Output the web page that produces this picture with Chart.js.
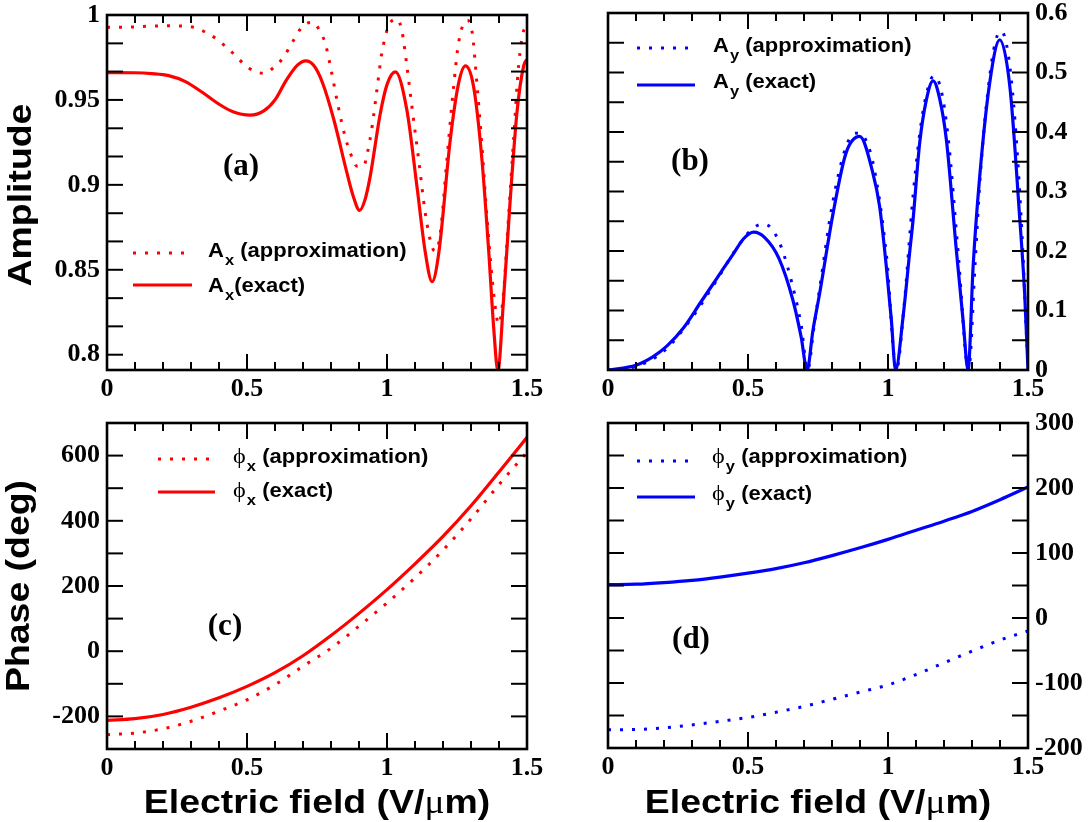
<!DOCTYPE html>
<html>
<head>
<meta charset="utf-8">
<script src="https://cdn.jsdelivr.net/npm/chart.js@4.4.0/dist/chart.umd.min.js"></script>
<style>
  html, body { margin: 0; padding: 0; background: #fff; }
  body { width: 1091px; height: 822px; position: relative; overflow: hidden; }
  canvas { position: absolute; }
  .title {
    position: absolute;
    font-family: 'Liberation Sans', Arial, sans-serif;
    font-weight: bold;
    font-size: 34px;
    line-height: 1;
    color: #000;
    white-space: nowrap;
  }
  .mu { font-family: 'Liberation Serif', serif; font-weight: normal; }
</style>
</head>
<body>
<canvas id="chartA" width="560" height="440" style="left:0;top:-30px"></canvas>
<canvas id="chartB" width="531" height="440" style="left:560px;top:-30px"></canvas>
<canvas id="chartC" width="560" height="389" style="left:0;top:400px"></canvas>
<canvas id="chartD" width="531" height="388" style="left:560px;top:400px"></canvas>

<div class="title" style="left:19px;top:195px;transform:translate(-50%,-50%) rotate(-90deg) scaleX(1.1)">Amplitude</div>
<div class="title" style="left:17px;top:586px;transform:translate(-50%,-50%) rotate(-90deg) scaleX(1.1)">Phase (deg)</div>
<div class="title" style="left:317px;top:801px;transform:translate(-50%,-50%) scaleX(1.1)">Electric field (V/<span class="mu">μ</span>m)</div>
<div class="title" style="left:818px;top:801px;transform:translate(-50%,-50%) scaleX(1.1)">Electric field (V/<span class="mu">μ</span>m)</div>

<script>
// Axis ticks (electric field, V/um)
const xLabelTicks = [0, 0.5, 1, 1.5];
const xMinorTicks = [0.1, 0.2, 0.3, 0.4, 0.5, 0.6, 0.7, 0.8, 0.9, 1, 1.1, 1.2, 1.3, 1.4];
const xMajorTicks = [0.5, 1];

// (a) amplitude A_x
const ampXLabels = [0.8, 0.85, 0.9, 0.95, 1];
const ampXMarks = [0.8, 0.8167, 0.8333, 0.85, 0.8667, 0.8833, 0.9, 0.9167, 0.9333, 0.95, 0.9667, 0.9833];
const ampXApproxField = [0, 0.05, 0.1, 0.14, 0.19, 0.23, 0.27, 0.31, 0.35, 0.39, 0.42, 0.45, 0.49, 0.525, 0.56, 0.595, 0.63, 0.655, 0.7, 0.735, 0.762, 0.78, 0.8, 0.826, 0.85, 0.869, 0.893, 0.917, 0.929, 0.947, 0.964, 0.982, 1.006, 1.036, 1.054, 1.071, 1.089, 1.113, 1.137, 1.161, 1.173, 1.19, 1.214, 1.238, 1.256, 1.286, 1.304, 1.321, 1.339, 1.357, 1.381, 1.399, 1.416, 1.434, 1.452, 1.47, 1.488, 1.5];
const ampXApprox = [0.9927, 0.9928, 0.993, 0.9934, 0.9936, 0.9936, 0.9935, 0.9927, 0.99, 0.986, 0.982, 0.9775, 0.971, 0.967, 0.9657, 0.969, 0.975, 0.9819, 0.9937, 0.9957, 0.99, 0.983, 0.968, 0.946, 0.9286, 0.9187, 0.911, 0.9112, 0.918, 0.9345, 0.956, 0.978, 0.9937, 0.9976, 0.99, 0.97, 0.946, 0.915, 0.883, 0.8635, 0.861, 0.871, 0.915, 0.958, 0.984, 0.997, 0.99, 0.96, 0.923, 0.881, 0.836, 0.818, 0.836, 0.881, 0.9266, 0.97, 0.9907, 0.9927];
const ampXExactField = [0, 0.1, 0.16, 0.22, 0.28, 0.34, 0.4, 0.45, 0.51, 0.56, 0.6, 0.64, 0.68, 0.71, 0.74, 0.77, 0.81, 0.857, 0.88, 0.902, 0.921, 0.94, 0.976, 1, 1.03, 1.071, 1.107, 1.137, 1.161, 1.185, 1.226, 1.256, 1.28, 1.309, 1.339, 1.363, 1.381, 1.396, 1.416, 1.44, 1.464, 1.488, 1.5];
const ampXExact = [0.9661, 0.966, 0.9655, 0.9643, 0.9608, 0.9545, 0.9475, 0.943, 0.941, 0.9435, 0.95, 0.9615, 0.9705, 0.973, 0.97, 0.96, 0.9385, 0.907, 0.893, 0.885, 0.891, 0.905, 0.942, 0.959, 0.9665, 0.944, 0.899, 0.86, 0.843, 0.86, 0.9266, 0.96, 0.97, 0.958, 0.915, 0.8615, 0.816, 0.7905, 0.832, 0.891, 0.9424, 0.97, 0.974];

// (b) amplitude A_y
const ampYLabels = [0, 0.1, 0.2, 0.3, 0.4, 0.5, 0.6];
const ampYMarks = [0.05, 0.1, 0.15, 0.2, 0.25, 0.3, 0.35, 0.4, 0.45, 0.5, 0.55];
const ampYApproxField = [0, 0.1, 0.2, 0.3, 0.4, 0.45, 0.5, 0.55, 0.58, 0.62, 0.66, 0.69, 0.713, 0.735, 0.76, 0.8, 0.85, 0.885, 0.91, 0.95, 0.995, 1.03, 1.056, 1.09, 1.12, 1.15, 1.165, 1.19, 1.215, 1.25, 1.288, 1.31, 1.33, 1.365, 1.39, 1.405, 1.44, 1.475, 1.5];
const ampYApprox = [0, 0.006, 0.032, 0.088, 0.16, 0.198, 0.23, 0.245, 0.24, 0.205, 0.14, 0.075, 0, 0.07, 0.15, 0.275, 0.375, 0.398, 0.394, 0.34, 0.19, 0, 0.1, 0.295, 0.42, 0.485, 0.494, 0.47, 0.39, 0.2, 0, 0.17, 0.33, 0.5, 0.562, 0.569, 0.49, 0.26, 0];
const ampYExactField = [0, 0.1, 0.16, 0.21, 0.27, 0.33, 0.39, 0.45, 0.485, 0.52, 0.56, 0.61, 0.66, 0.69, 0.711, 0.732, 0.756, 0.804, 0.85, 0.899, 0.946, 0.97, 0.994, 1.012, 1.027, 1.054, 1.077, 1.089, 1.113, 1.137, 1.161, 1.185, 1.2085, 1.244, 1.268, 1.286, 1.304, 1.3275, 1.363, 1.399, 1.435, 1.47, 1.488, 1.5];
const ampYExact = [0, 0.008, 0.022, 0.04, 0.071, 0.113, 0.155, 0.197, 0.221, 0.2316, 0.2225, 0.188, 0.118, 0.055, 0, 0.067, 0.129, 0.2636, 0.3645, 0.3925, 0.331, 0.275, 0.174, 0.084, 0, 0.09, 0.196, 0.25, 0.381, 0.454, 0.486, 0.455, 0.387, 0.202, 0.084, 0, 0.174, 0.325, 0.482, 0.555, 0.477, 0.258, 0.129, 0];

// (c) phase phi_x
const phaseXLabels = [-200, 0, 200, 400, 600];
const phaseXMarks = [-200, -100, 0, 100, 200, 300, 400, 500, 600];
const phaseField = [0, 0.1, 0.2, 0.3, 0.4, 0.5, 0.6, 0.7, 0.8, 0.9, 1, 1.1, 1.2, 1.3, 1.4, 1.5];
const phaseXApprox = [-256, -251, -238, -215, -184, -149, -103, -46, 9, 77, 148, 225, 310, 406, 511, 610];
const phaseXExact = [-212, -207, -194, -172, -143, -108, -66, -14, 48, 116, 189, 268, 352, 446, 550, 656];

// (d) phase phi_y
const phaseYLabels = [-200, -100, 0, 100, 200, 300];
const phaseYMarks = [-150, -100, -50, 0, 50, 100, 150, 200, 250];
const phaseYApprox = [-172, -171.5, -169, -164.5, -159, -153, -145, -136, -125, -114, -103, -87, -69, -51, -34, -20];
const phaseYExact = [51.3, 52, 54.5, 58, 63, 69, 76, 85, 96, 108, 121, 135, 149, 164, 182, 201.5];

// Legend texts: symbol, subscript, rest
const legendA = [['A', 'x', ' (approximation)'], ['A', 'x', '(exact)']];
const legendB = [['A', 'y', ' (approximation)'], ['A', 'y', ' (exact)']];
const legendC = [['\u03D5', 'x', ' (approximation)'], ['\u03D5', 'x', ' (exact)']];
const legendD = [['\u03D5', 'y', ' (approximation)'], ['\u03D5', 'y', ' (exact)']];

const RED = '#ff0000';
const BLUE = '#0000ff';
const tickFont = { family: "'Liberation Serif', 'Times New Roman', serif", size: 26, weight: 'bold' };

function pairs(xs, ys) {
    return xs.map((x, i) => ({ x: x, y: ys[i] }));
}

function fmt(v) {
    return String(+v.toFixed(3));
}

// Frame, inward ticks, legend and panel tag
const decoPlugin = {
    id: 'deco',
    afterDraw(chart, args, opts) {
        const ctx = chart.ctx;
        const ca = chart.chartArea;
        const xs = chart.scales.x;
        const ys = chart.scales.y;
        const seg = (x0, y0, x1, y1) => { ctx.beginPath(); ctx.moveTo(x0, y0); ctx.lineTo(x1, y1); ctx.stroke(); };

        ctx.save();
        ctx.strokeStyle = '#000';
        ctx.lineWidth = 2;
        xMinorTicks.forEach(v => {
            const px = xs.getPixelForValue(v);
            const len = xMajorTicks.includes(v) ? 16 : 8;
            seg(px, ca.bottom, px, ca.bottom - len);
            seg(px, ca.top, px, ca.top + len);
        });
        opts.marks.forEach(v => {
            const py = ys.getPixelForValue(v);
            seg(ca.left, py, ca.left + 16, py);
            seg(ca.right, py, ca.right - 16, py);
        });
        ctx.lineWidth = 2.6;
        ctx.strokeRect(ca.left, ca.top, ca.right - ca.left, ca.bottom - ca.top);

        // legend rows
        opts.legend.forEach((row, i) => {
            const pos = opts.rows[i];
            ctx.strokeStyle = opts.color;
            ctx.lineWidth = 3;
            ctx.setLineDash(i === 0 ? [3, 9] : []);
            seg(ca.left + pos.x0, ca.top + pos.y, ca.left + pos.x1, ca.top + pos.y);
            ctx.setLineDash([]);

            ctx.save();
            ctx.translate(ca.left + opts.textX, ca.top + pos.ty);
            ctx.scale(1.1, 1);
            ctx.fillStyle = '#000';
            ctx.textAlign = 'left';
            ctx.textBaseline = 'alphabetic';
            let x = 0;
            ctx.font = opts.symFont;
            ctx.fillText(row[0], x, 0);
            x += ctx.measureText(row[0]).width + 1;
            ctx.font = "bold 15px 'Liberation Sans', Arial, sans-serif";
            ctx.fillText(row[1], x, 8);
            x += ctx.measureText(row[1]).width;
            ctx.font = "bold 20px 'Liberation Sans', Arial, sans-serif";
            ctx.fillText(row[2], x, 0);
            ctx.restore();
        });

        // panel tag
        ctx.fillStyle = '#000';
        ctx.font = "bold 31px 'Liberation Serif', 'Times New Roman', serif";
        ctx.textAlign = 'center';
        ctx.textBaseline = 'middle';
        ctx.fillText(opts.tag, ca.left + opts.tagX, ca.top + opts.tagY);
        ctx.restore();
    }
};

function panel(id, cfg) {
    return new Chart(document.getElementById(id), {
        type: 'line',
        data: {
            datasets: [
                {
                    label: 'approximation',
                    data: cfg.approx,
                    borderColor: cfg.color,
                    borderWidth: 3,
                    borderDash: [3, 9],
                    borderCapStyle: 'butt'
                },
                {
                    label: 'exact',
                    data: cfg.exact,
                    borderColor: cfg.color,
                    borderWidth: 3.2
                }
            ]
        },
        options: {
            responsive: false,
            animation: false,
            layout: { padding: cfg.padding },
            elements: {
                point: { radius: 0 },
                line: { cubicInterpolationMode: 'monotone', fill: false }
            },
            plugins: {
                legend: { display: false },
                tooltip: { enabled: false },
                deco: cfg.deco
            },
            scales: {
                x: {
                    type: 'linear',
                    min: 0,
                    max: 1.5,
                    grid: { display: false, drawTicks: false },
                    border: { display: false },
                    afterBuildTicks: s => { s.ticks = xLabelTicks.map(v => ({ value: v })); },
                    afterFit: s => { s.height = 40; },
                    ticks: { padding: 4, color: '#000', font: tickFont, maxRotation: 0, autoSkip: false, callback: v => fmt(v) }
                },
                y: {
                    type: 'linear',
                    position: cfg.yPos,
                    min: cfg.yMin,
                    max: cfg.yMax,
                    grid: { display: false, drawTicks: false },
                    border: { display: false },
                    afterBuildTicks: s => { s.ticks = cfg.yLabels.map(v => ({ value: v })); },
                    afterFit: s => { s.width = cfg.yWidth; },
                    ticks: { padding: 7, color: '#000', font: tickFont, autoSkip: false, callback: v => fmt(v) }
                }
            }
        },
        plugins: [decoPlugin]
    });
}

const sansSym = "bold 20px 'Liberation Sans', Arial, sans-serif";
const serifSym = "22px 'Liberation Serif', 'DejaVu Serif', serif";

panel('chartA', {
    color: RED,
    approx: pairs(ampXApproxField, ampXApprox),
    exact: pairs(ampXExactField, ampXExact),
    yPos: 'left', yMin: 0.791, yMax: 1, yLabels: ampXLabels, yWidth: 107,
    padding: { left: 0, right: 33, top: 45, bottom: 0 },
    deco: {
        color: RED, marks: ampXMarks, legend: legendA, symFont: sansSym,
        textX: 101, rows: [{ x0: 26, x1: 78, y: 238, ty: 242 }, { x0: 26, x1: 85, y: 270, ty: 277 }],
        tag: '(a)', tagX: 134, tagY: 152
    }
});

panel('chartB', {
    color: BLUE,
    approx: pairs(ampYApproxField, ampYApprox),
    exact: pairs(ampYExactField, ampYExact),
    yPos: 'right', yMin: 0, yMax: 0.6, yLabels: ampYLabels, yWidth: 63,
    padding: { left: 48, right: 0, top: 43, bottom: 0 },
    deco: {
        color: BLUE, marks: ampYMarks, legend: legendB, symFont: sansSym,
        textX: 105, rows: [{ x0: 29, x1: 80, y: 35, ty: 39 }, { x0: 29, x1: 87, y: 72, ty: 75 }],
        tag: '(b)', tagX: 82, tagY: 149
    }
});

panel('chartC', {
    color: RED,
    approx: pairs(phaseField, phaseXApprox),
    exact: pairs(phaseField, phaseXExact),
    yPos: 'left', yMin: -300, yMax: 700, yLabels: phaseXLabels, yWidth: 107,
    padding: { left: 0, right: 33, top: 23, bottom: 0 },
    deco: {
        color: RED, marks: phaseXMarks, legend: legendC, symFont: serifSym,
        textX: 126, rows: [{ x0: 51, x1: 103, y: 36, ty: 40 }, { x0: 51, x1: 108, y: 69, ty: 74 }],
        tag: '(c)', tagX: 118, tagY: 204
    }
});

panel('chartD', {
    color: BLUE,
    approx: pairs(phaseField, phaseYApprox),
    exact: pairs(phaseField, phaseYExact),
    yPos: 'right', yMin: -200, yMax: 300, yLabels: phaseYLabels, yWidth: 63,
    padding: { left: 48, right: 0, top: 23, bottom: 0 },
    deco: {
        color: BLUE, marks: phaseYMarks, legend: legendD, symFont: serifSym,
        textX: 104, rows: [{ x0: 29, x1: 80, y: 38, ty: 40 }, { x0: 29, x1: 87, y: 74, ty: 77 }],
        tag: '(d)', tagX: 83, tagY: 217
    }
});
</script>
</body>
</html>
